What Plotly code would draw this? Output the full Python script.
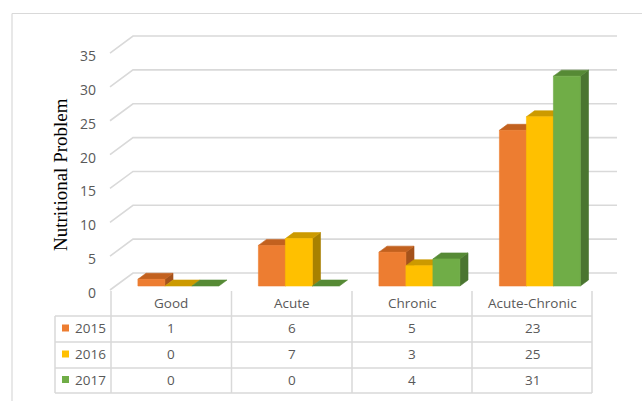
import plotly.graph_objects as go

# ---------------- data ----------------
categories = ["Good", "Acute", "Chronic", "Acute-Chronic"]
years = ["2015", "2016", "2017"]
v2015 = [1, 6, 5, 23]
v2016 = [0, 7, 3, 25]
v2017 = [0, 0, 4, 31]
series = [v2015, v2016, v2017]
y_ticks = [0, 5, 10, 15, 20, 25, 30, 35]
y_title = "Nutritional Problem"

# ---------------- styles ----------------
front_cols = ["#ED7D31", "#FFC000", "#70AD47"]
top_cols = ["#C2611F", "#CC9A00", "#568A35"]
side_cols = ["#A4521B", "#A88000", "#4A7530"]
grid_col = "#D9D9D9"
text_col = "#595959"

W_PX, H_PX = 642, 401
# pixel mapping of the data scales (category units / value units)
PX0, PXU = 173.0, 120.5     # pixel x of category 0 at front, pixels per category
PY0, PYU = 290.0, 6.77      # pixel y of value 0 at front, pixels per unit
DX = 23.0 / PXU             # full-depth oblique offset (category units)
DY = 17.0 / PYU             # full-depth oblique offset (value units)
BW = 27.0 / PXU             # bar width
DF, DB = 0.235, 0.588       # bar front/back depth fractions


def U(px):
    return (px - PX0) / PXU


def V(py):
    return (PY0 - py) / PYU


def P(u, v, d):
    return (u + d * DX, v + d * DY)


fig = go.Figure()

# ---------------- gridlines (front-left diagonal + back wall) ----------------
gx, gy = [], []
for t in y_ticks:
    a = P(U(110), t, 0)
    b = P(U(110), t, 1)
    c = (U(617), t + DY)
    gx += [a[0], b[0], c[0], None]
    gy += [a[1], b[1], c[1], None]
fig.add_trace(go.Scatter(x=gx, y=gy, mode="lines",
                         line=dict(color=grid_col, width=1.6),
                         hoverinfo="skip", showlegend=False))


def poly(pts, color):
    xs = [p[0] for p in pts] + [pts[0][0]]
    ys = [p[1] for p in pts] + [pts[0][1]]
    fig.add_trace(go.Scatter(x=xs, y=ys, mode="lines", fill="toself",
                             fillcolor=color, line=dict(color=color, width=0.6),
                             hoverinfo="skip", showlegend=False))


# ---------------- 3D bars ----------------
for i in range(len(categories)):
    for j, vals in enumerate(series):
        h = vals[i]
        x0 = i - 1.5 * BW + j * BW
        x1 = x0 + BW
        if h > 0:
            poly([P(x1, 0, DF), P(x1, 0, DB), P(x1, h, DB), P(x1, h, DF)], side_cols[j])
        poly([P(x0, h, DF), P(x1, h, DF), P(x1, h, DB), P(x0, h, DB)], top_cols[j])
        if h > 0:
            poly([P(x0, 0, DF), P(x1, 0, DF), P(x1, h, DF), P(x0, h, DF)], front_cols[j])

ann = []

# ---------------- y tick labels ----------------
for t in y_ticks:
    ann.append(dict(x=U(98), y=t, xref="x", yref="y", text=str(t), showarrow=False,
                    xanchor="right", yanchor="middle", yshift=-2.5,
                    font=dict(family="Open Sans", size=14, color=text_col)))

# ---------------- data table ----------------
shapes = []
col_edges = [111, 231.5, 352, 472, 592]
row_edges = [316, 342, 368, 393]
tbl_left = 55
line = dict(color=grid_col, width=1.5)
for ry in row_edges:
    shapes.append(dict(type="line", xref="x", yref="y", x0=U(tbl_left), x1=U(col_edges[-1]),
                       y0=V(ry), y1=V(ry), line=line, layer="below"))
shapes.append(dict(type="line", xref="x", yref="y", x0=U(tbl_left), x1=U(tbl_left),
                   y0=V(row_edges[0]), y1=V(row_edges[-1]), line=line, layer="below"))
for cx in col_edges:
    shapes.append(dict(type="line", xref="x", yref="y", x0=U(cx), x1=U(cx),
                       y0=V(291), y1=V(row_edges[-1]), line=line, layer="below"))
# outer chart border (top, left)
shapes.append(dict(type="line", xref="x", yref="y", x0=U(12), x1=U(W_PX + 5),
                   y0=V(13.5), y1=V(13.5), line=dict(color=grid_col, width=1.2)))
shapes.append(dict(type="line", xref="x", yref="y", x0=U(12), x1=U(12),
                   y0=V(13.5), y1=V(H_PX + 5), line=dict(color=grid_col, width=1.2)))

tfont = dict(family="Open Sans", size=13.5, color=text_col)
col_centers = [(col_edges[k] + col_edges[k + 1]) / 2 for k in range(len(categories))]
row_centers = [(row_edges[k] + row_edges[k + 1]) / 2 - 1 for k in range(len(years))]
for k, cat in enumerate(categories):
    ann.append(dict(x=U(col_centers[k]), y=V(303), xref="x", yref="y", text=cat,
                    showarrow=False, font=tfont, xanchor="center", yanchor="middle"))
for r, vals in enumerate(series):
    for k in range(len(categories)):
        ann.append(dict(x=U(col_centers[k]), y=V(row_centers[r]), xref="x", yref="y",
                        text=str(vals[k]), showarrow=False, font=tfont,
                        xanchor="center", yanchor="middle"))
    ann.append(dict(x=U(73), y=V(row_centers[r]), xref="x", yref="y", text=years[r],
                    showarrow=False, font=tfont, xanchor="left", yanchor="middle"))

fig.add_trace(go.Scatter(x=[U(65.5)] * 3, y=[V(rc) for rc in row_centers], mode="markers",
                         marker=dict(symbol="square", size=7, color=front_cols,
                                     line=dict(width=0)),
                         hoverinfo="skip", showlegend=False))

# y-axis title
ann.append(dict(x=U(60), y=V(175), xref="x", yref="y", text=y_title, textangle=-90,
                showarrow=False, xanchor="center", yanchor="middle",
                font=dict(family="Liberation Serif", size=19, color="#000000")))

fig.update_layout(
    width=W_PX, height=H_PX, autosize=False,
    margin=dict(l=0, r=0, t=0, b=0, pad=0),
    paper_bgcolor="white", plot_bgcolor="white",
    xaxis=dict(range=[U(0), U(W_PX)], visible=False, fixedrange=True),
    yaxis=dict(range=[V(H_PX), V(0)], visible=False, fixedrange=True),
    shapes=shapes, annotations=ann, showlegend=False,
)

fig.write_html("out.html")
